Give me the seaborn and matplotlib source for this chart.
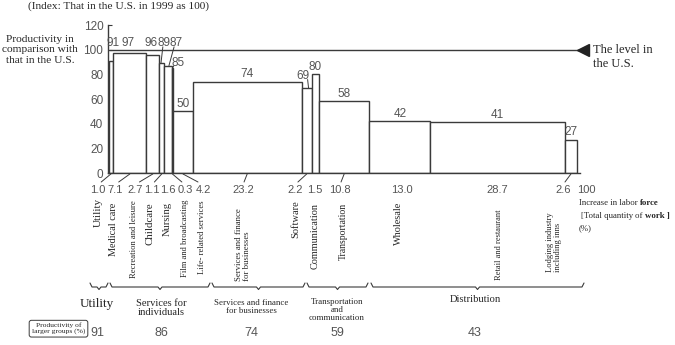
import numpy as np
import pandas as pd
import matplotlib
matplotlib.use("Agg")
import matplotlib.pyplot as plt
from matplotlib import font_manager
import seaborn as sns

# ---- data -------------------------------------------------------------
industries = ["Utility", "Medical care", "Recreation and leisure", "Childcare",
              "Nursing", "Film and broadcasting", "Life- related services",
              "Services and finance\nfor businesses", "Software", "Communication",
              "Transportation", "Wholesale", "Retail and restaurant",
              "Lodging industry\nincluding inns"]
labor_share = [1.0, 7.1, 2.7, 1.1, 1.6, 0.3, 4.2, 23.2, 2.2, 1.5, 10.8, 13.0, 28.7, 2.6]
productivity = [91, 97, 96, 89, 87, 85, 50, 74, 69, 80, 58, 42, 41, 27]
groups = ["Utility", "Services for\nindividuals", "Services and finance\nfor businesses",
          "Transportation\nand\ncommunication", "Distribution"]
group_productivity = [91, 86, 74, 59, 43]
us_level = 100
y_ticks = [0, 20, 40, 60, 80, 100, 120]
total_label = "100"

# ---- style ------------------------------------------------------------
sns.set_theme(style="white")
names = {f.name for f in font_manager.fontManager.ttflist}
SERIF = "Liberation Serif" if "Liberation Serif" in names else "DejaVu Serif"
NUM = "Liberation Sans" if "Liberation Sans" in names else "DejaVu Sans"
plt.rcParams["font.family"] = [SERIF, "DejaVu Sans"]
NUM_COLOR = "#555555"
EDGE = "#3a3a3a"

W, H = 675, 345
fig = plt.figure(figsize=(W / 100, H / 100), dpi=100)

# pixel geometry of the plotting area
X0, SX = 108.5, 4.685          # x pixel of 0 %, pixels per %
Y0, SY = 173.0, 148.0 / 120    # y pixel of 0, pixels per index point
xlo, xhi = -0.2, 100.6
left_px, right_px = X0 + xlo * SX, X0 + xhi * SX
ax = fig.add_axes([left_px / W, (H - Y0) / H, (right_px - left_px) / W, (SY * 120) / H])

# ---- variable-width bars ------------------------------------------------
edges = np.concatenate([[0.0], np.cumsum(labor_share)])
centers = (edges[:-1] + edges[1:]) / 2
df = pd.DataFrame({"industry": industries, "share": labor_share,
                   "mid": centers, "productivity": productivity})
sns.histplot(data=df, x="mid", weights="productivity", bins=edges.tolist(),
             stat="count", color="white", edgecolor=EDGE, linewidth=1.0, alpha=1,
             ax=ax)

ax.set_xlim(xlo, xhi)
ax.set_ylim(0, 120)
ax.set_xlabel("")
ax.set_ylabel("")
ax.set_xticks([])
ax.set_yticks(y_ticks)
ax.tick_params(axis="y", direction="in", length=3, width=0.8, pad=3,
               labelsize=8.5, labelcolor=NUM_COLOR, left=True, color=EDGE)
for lab in ax.get_yticklabels():
    lab.set_family(NUM)
for s in ("top", "right"):
    ax.spines[s].set_visible(False)
for s in ("left", "bottom"):
    ax.spines[s].set_color(EDGE)
    ax.spines[s].set_linewidth(1.0)

# level in the U.S.
ax.plot([0, 101.2], [us_level, us_level], color=EDGE, lw=1.0, clip_on=False, zorder=3)
ax.plot([101.2], [us_level], marker="<", markersize=9, color="#222222",
        clip_on=False, zorder=4)

# ---- value labels on bars ----------------------------------------------
num_kw = dict(family=NUM, color=NUM_COLOR, fontsize=8.5, clip_on=False)
# default: centered just above each bar top
special = {0: (0.96, 105.4), 1: (4.16, 105.4), 2: (9.07, 105.4), 3: (11.85, 105.4),
           4: (14.5, 105.4), 5: (14.9, 89.2), 8: (41.6, 78.6)}
for i, (c, v) in enumerate(zip(centers, productivity)):
    if i in special:
        x, y = special[i]
        ax.text(x, y, f"{v}", ha="center", va="center", **num_kw)
    else:
        ax.text(c, v + 1.2, f"{v}", ha="center", va="bottom", **num_kw)

leader_kw = dict(color=EDGE, lw=0.7, clip_on=False)
ax.plot([11.6, 11.2], [102.3, 89.0], **leader_kw)
ax.plot([14.0, 12.9], [102.3, 87.0], **leader_kw)
ax.plot([13.95, 13.65], [87.0, 85.0], **leader_kw)
ax.plot([42.5, 42.7], [75.8, 69.0], **leader_kw)

# ---- annotations in pixel space ------------------------------------------
ov = fig.add_axes([0, 0, 1, 1])
ov.set_xlim(0, W)
ov.set_ylim(H, 0)
ov.axis("off")
ov.patch.set_alpha(0)

ov.text(28, 6, "(Index: That in the U.S. in 1999 as 100)", ha="left", va="center",
        fontsize=8.2)
ov.text(40, 50, "Productivity in\ncomparison with\nthat in the U.S.", ha="center",
        va="center", fontsize=8.2, linespacing=1.15)
ov.text(593, 57, "The level in\nthe U.S.", ha="left", va="center", fontsize=9,
        linespacing=1.2)

# labour-share numbers under the axis, with leaders for the narrow bars
share_px = [98, 115, 135, 152, 168, 185, 203, 243, 295, 315, 340, 402, 497, 563]
for px, s, c in zip(share_px, labor_share, centers):
    ov.text(px, 190, f"{s:.1f}", ha="center", va="center", family=NUM,
            color=NUM_COLOR, fontsize=8)
    cpx = X0 + c * SX
    if abs(cpx - px) > 4:
        ov.plot([cpx, cpx + (px - cpx) * 0.75], [174, 182], color=EDGE, lw=0.7)
ov.text(586, 190, total_label, ha="center", va="center", family=NUM,
        color=NUM_COLOR, fontsize=8)

t1 = ov.text(579, 203, "Increase in labor ", ha="left", va="center", fontsize=6.3)
ov.annotate("force", xy=(1, 0.5), xycoords=t1, ha="left", va="center",
            fontsize=6.3, fontweight="bold")
t2 = ov.text(581, 216, "[Total quantity ", ha="left", va="center", fontsize=6.3)
t3 = ov.annotate("of ", xy=(1, 0.5), xycoords=t2, ha="left", va="center", fontsize=6.3)
ov.annotate("work ]", xy=(1, 0.5), xycoords=t3, ha="left", va="center",
            fontsize=6.3, fontweight="bold")
ov.text(579, 228, "(%)", ha="left", va="center", fontsize=6.3)

# rotated industry names
name_px = [98, 113, 134, 150, 167, 185, 202, 243, 296, 315, 343, 398, 499, 554]
name_top = [198, 203, 200, 202, 202, 200, 200, 208, 200, 203, 203, 202, 210, 212]
name_size = [8, 7.4, 6.2, 7.8, 7.6, 6.2, 6.2, 6.3, 7.5, 7.4, 7.0, 7.4, 6.0, 6.2]
for px, top, fs, name in zip(name_px, name_top, name_size, industries):
    ov.text(px, top, name, rotation=90, ha="center", va="top", fontsize=fs,
            multialignment="left", linespacing=1.05)

# braces grouping the industries
brace_spans = [(90, 108), (110, 210), (212, 305), (307, 368), (371, 584)]
yb = 287
for a, b in brace_spans:
    m = (a + b) / 2
    xs = [a, a + 2, m - 2, m, m + 2, b - 2, b]
    ys = [yb - 4, yb, yb, yb + 2.5, yb, yb, yb - 4]
    ov.plot(xs, ys, color=EDGE, lw=0.8)

group_px = [97, 161, 251, 337, 475]
group_y = [304, 308, 307, 310, 300]
group_size = [9.5, 7.6, 6.4, 6.4, 7.6]
for px, y, fs, g in zip(group_px, group_y, group_size, groups):
    ov.text(px, y, g, ha="center", va="center", fontsize=fs, linespacing=1.05)

ov.text(58.5, 328.5, "Productivity of\nlarger groups (%)", ha="center", va="center",
        fontsize=5.4, linespacing=1.1,
        bbox=dict(boxstyle="round,pad=0.35,rounding_size=0.3", fc="white",
                  ec=EDGE, lw=0.7))
for px, v in zip(group_px, group_productivity):
    ov.text(px, 333, f"{v}", ha="center", va="center", family=NUM,
            color=NUM_COLOR, fontsize=9)

fig.savefig("out.png", dpi=100)
